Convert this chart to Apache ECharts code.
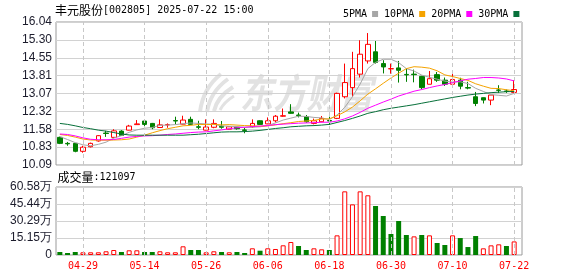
<!DOCTYPE html>
<html><head><meta charset="utf-8">
<script src="https://cdn.jsdelivr.net/npm/echarts@6/dist/echarts.min.js"></script>
<style>html,body{margin:0;padding:0;background:#fff}#c{width:578px;height:276px}</style>
</head><body><div id="c"></div>
<script>
const dates = ['04-24','04-25','04-28','04-29','04-30','05-06','05-07','05-08','05-09','05-12',
'05-13','05-14','05-15','05-16','05-19','05-20','05-21','05-22','05-23','05-26',
'05-27','05-28','05-29','05-30','06-03','06-04','06-05','06-06','06-09','06-10',
'06-11','06-12','06-13','06-16','06-17','06-18','06-19','06-20','06-23','06-24',
'06-25','06-26','06-27','06-30','07-01','07-02','07-03','07-04','07-07','07-08',
'07-09','07-10','07-11','07-14','07-15','07-16','07-17','07-18','07-21','07-22'];
const xTickLabels = ['04-29','05-14','05-26','06-06','06-18','06-30','07-10','07-22'];
const open = [11.24,10.99,10.99,10.66,10.85,11.09,11.42,11.24,11.50,11.54,
11.77,11.92,11.82,11.65,11.76,11.94,11.79,11.99,11.68,11.54,
11.66,11.70,11.58,11.66,11.55,11.68,11.93,11.80,11.93,12.12,
12.30,12.17,12.10,11.82,11.89,11.94,12.03,12.93,13.31,13.87,
14.42,14.80,14.31,14.09,14.13,13.86,13.87,13.78,13.45,13.85,
13.62,13.45,13.62,13.31,12.93,12.89,12.79,13.21,13.17,13.11];
const close = [10.99,10.97,10.66,10.83,10.99,11.31,11.40,11.51,11.32,11.71,
11.80,11.78,11.64,11.76,11.77,11.92,11.96,11.78,11.66,11.67,
11.82,11.66,11.68,11.60,11.53,11.82,11.78,11.93,12.12,12.14,
12.24,12.15,11.89,11.93,12.03,11.92,13.07,13.52,14.10,14.70,
15.11,14.36,14.17,14.10,14.03,13.84,13.85,13.31,13.68,13.62,
13.45,13.65,13.37,13.29,12.65,12.79,13.00,13.20,13.15,13.23];
const low = [10.96,10.89,10.62,10.60,10.82,11.06,11.26,11.20,11.30,11.53,
11.76,11.68,11.58,11.64,11.64,11.78,11.78,11.75,11.58,11.53,
11.62,11.60,11.57,11.56,11.41,11.64,11.76,11.79,11.86,12.10,
12.22,12.07,11.85,11.78,11.87,11.76,12.00,12.86,12.93,13.73,
14.31,14.31,13.90,13.89,13.52,13.55,13.53,13.24,13.45,13.55,
13.38,13.38,13.24,13.24,12.54,12.65,12.58,13.09,13.09,13.10];
const high = [11.27,11.05,11.00,10.89,11.02,11.33,11.51,11.58,11.54,11.76,
11.96,11.93,11.84,11.99,11.82,12.10,12.14,12.10,11.93,11.99,
11.99,11.92,11.70,11.68,11.64,11.99,11.95,12.07,12.17,12.44,
12.62,12.27,12.17,12.02,12.13,12.10,13.10,14.31,14.80,15.28,
15.58,15.25,14.45,14.31,14.42,14.10,14.06,13.80,14.00,13.96,
13.73,13.96,13.72,13.55,13.13,12.90,13.00,13.41,13.23,13.62];
const volume = [26700,17800,26700,24000,24000,24000,33000,44500,26700,41800,
41800,26700,26700,33000,24000,24000,77500,44500,44500,24000,
33000,26700,24000,26700,17800,59700,38300,59700,53500,86400,
115800,80200,44500,59400,50500,44500,175000,567000,451000,567000,
532000,436500,347500,187000,303000,178000,166000,178000,175000,107000,
89000,175000,151000,71000,169000,59400,86000,95000,80000,121097];
const ma5 = [11.27,11.15,11.02,10.93,10.89,10.95,11.04,11.21,11.31,11.45,
11.55,11.62,11.65,11.74,11.75,11.77,11.81,11.84,11.82,11.80,
11.78,11.72,11.70,11.69,11.66,11.66,11.68,11.73,11.84,11.96,
12.04,12.12,12.11,12.07,12.05,11.98,12.17,12.49,12.93,13.46,
14.10,14.36,14.49,14.49,14.35,14.10,14.00,13.83,13.74,13.66,
13.58,13.54,13.55,13.48,13.28,13.15,13.02,12.99,12.96,13.07];
const ma10 = [11.36,11.32,11.25,11.17,11.13,11.12,11.12,11.13,11.14,11.17,
11.25,11.33,11.43,11.52,11.60,11.66,11.72,11.74,11.78,11.77,
11.78,11.76,11.77,11.75,11.73,11.72,11.70,11.72,11.76,11.81,
11.85,11.90,11.92,11.95,12.00,12.01,12.14,12.30,12.50,12.76,
13.04,13.26,13.49,13.71,13.91,14.10,14.18,14.16,14.12,14.01,
13.84,13.77,13.69,13.61,13.47,13.37,13.28,13.27,13.22,13.18];
const ma20 = [11.38,11.36,11.30,11.22,11.16,11.14,11.14,11.15,11.20,11.25,
11.28,11.30,11.31,11.33,11.36,11.38,11.41,11.44,11.46,11.47,
11.51,11.55,11.60,11.64,11.66,11.69,11.71,11.73,11.77,11.79,
11.81,11.83,11.84,11.85,11.87,11.87,11.92,12.01,12.13,12.28,
12.45,12.58,12.71,12.83,12.96,13.06,13.16,13.23,13.31,13.38,
13.44,13.52,13.59,13.66,13.69,13.73,13.73,13.71,13.67,13.59];
const ma30 = [11.82,11.78,11.72,11.65,11.60,11.54,11.50,11.44,11.38,11.34,
11.33,11.33,11.33,11.33,11.33,11.33,11.33,11.35,11.37,11.40,
11.43,11.46,11.47,11.47,11.48,11.50,11.53,11.57,11.61,11.64,
11.68,11.70,11.72,11.73,11.75,11.78,11.86,11.94,12.03,12.13,
12.24,12.31,12.39,12.45,12.50,12.55,12.60,12.66,12.72,12.78,
12.84,12.90,12.95,13.00,13.04,13.07,13.10,13.12,13.14,13.15];
const priceTicks = ['10.09','10.83','11.58','12.32','13.07','13.81','14.55','15.30','16.04'];
const volTicks = ['0','15.15万','30.29万','45.44万','60.58万'];
const priceMin = 10.09, priceMax = 16.04, volMax = 605800;
const stockTitle = '丰元股份', stockInfo = '[002805] 2025-07-22 15:00';

const RED = '#ff0000', GREEN = '#008000', WM = '#e2e2e2';
const MONO = '"DejaVu Sans Mono", "Liberation Mono", monospace';
const CJK = '"Noto Sans CJK SC", sans-serif';
const SANS = '"Liberation Sans", Arial, sans-serif';
const showTick = (i) => xTickLabels.indexOf(dates[i]) >= 0;

const chart = echarts.init(document.getElementById('c'), null, {renderer: 'canvas'});
const L = 56, TOPP = 22, HP = 143, TOPV = 187, HV = 68, W = 462;
const frameGrid = (top, h) => ({left: L, right: 56, top: top, height: h, show: true, borderColor: '#9a9a9a', borderWidth: 1, backgroundColor: 'transparent'});
const dataGrid = (top, h) => ({left: L, width: W, top: top, height: h});
const catAxis = (gi, labels) => ({
  gridIndex: gi, type: 'category', data: dates, boundaryGap: true,
  axisLine: {show: false}, axisTick: {show: false},
  axisLabel: labels ? {show: true, interval: showTick, color: RED, fontFamily: MONO, fontSize: 10, margin: 6} : {show: false},
  splitLine: {show: false}
});
const frameY = (gi, ticks) => ({
  gridIndex: gi, type: 'value', min: 0, max: ticks.length - 1, interval: 1,
  axisLine: {show: false}, axisTick: {show: false},
  axisLabel: {formatter: v => ticks[v], color: '#1c1c2c', fontFamily: SANS, fontSize: 12, margin: 4},
  splitLine: {show: true, lineStyle: {color: '#d2d2d2', width: 1}}
});
const dashLines = {
  silent: true, symbol: 'none', animation: false, label: {show: false},
  lineStyle: {color: '#c8c8c8', type: [4, 3], width: 1},
  emphasis: {disabled: true},
  data: xTickLabels.map(d => ({xAxis: d}))
};

const volData = volume.map((v, i) => {
  const up = i === 0 ? close[i] >= open[i] : close[i] >= close[i - 1];
  return {value: v, itemStyle: up ? {color: '#fff', borderColor: RED, borderWidth: 1} : {color: GREEN, borderColor: GREEN, borderWidth: 0}};
});
const maSeries = (name, arr, color) => ({
  name: name, type: 'line', xAxisIndex: 1, yAxisIndex: 1, data: arr, showSymbol: false, symbol: 'none',
  lineStyle: {color: color, width: 1}, itemStyle: {color: color}, z: 4, animation: false
});
const blade = (x1, y1, cx, cy, x2, y2, w) => ({type: 'bezierCurve', z: 0, silent: true,
  shape: {x1: x1, y1: y1, cpx1: cx, cpy1: cy, x2: x2, y2: y2},
  style: {stroke: WM, lineWidth: w, fill: null, lineCap: 'butt'}});

chart.setOption({
  animation: false,
  backgroundColor: '#fff',
  legend: {
    left: 338, top: 4, align: 'right', icon: 'rect', itemWidth: 6, itemHeight: 6, itemGap: 6,
    selectedMode: false, textStyle: {fontFamily: MONO, fontSize: 10, color: '#000'},
    data: ['5PMA', '10PMA', '20PMA', '30PMA']
  },
  graphic: [
    blade(200, 112, 203, 88, 221, 74, 4),
    blade(207, 112, 210, 92, 228, 79, 4),
    blade(214, 111, 217, 97, 233, 87, 4),
    blade(220, 110, 224, 102, 234, 96, 3),
    {type: 'text', x: 240, y: 73, scaleX: 0.83, z: 0, silent: true,
     style: {text: '东方财富', font: 'italic bold 40px "Noto Sans CJK SC"', fill: WM, verticalAlign: 'top'}},
    {type: 'text', x: 55, y: 10, style: {text: stockTitle, font: '12px ' + CJK, fill: '#000', verticalAlign: 'middle'}},
    {type: 'text', x: 103, y: 10, style: {text: stockInfo, font: '10px ' + MONO, fill: '#000', verticalAlign: 'middle'}},
    {type: 'text', x: 57.5, y: 177, style: {text: '成交量', font: '12px ' + CJK, fill: '#000', verticalAlign: 'middle'}},
    {type: 'text', x: 93.5, y: 177, style: {text: ':' + volume[volume.length - 1], font: '10px ' + MONO, fill: '#000', verticalAlign: 'middle'}}
  ],
  grid: [frameGrid(TOPP, HP), dataGrid(TOPP, HP), frameGrid(TOPV, HV), dataGrid(TOPV, HV)],
  xAxis: [
    {gridIndex: 0, type: 'value', min: 0, max: 1, show: false},
    catAxis(1, false),
    {gridIndex: 2, type: 'value', min: 0, max: 1, show: false},
    catAxis(3, true)
  ],
  yAxis: [
    frameY(0, priceTicks),
    {gridIndex: 1, type: 'value', min: priceMin, max: priceMax, show: false},
    frameY(2, volTicks),
    {gridIndex: 3, type: 'value', min: 0, max: volMax, show: false}
  ],
  series: [
    {type: 'candlestick', xAxisIndex: 1, yAxisIndex: 1, barWidth: 5, z: 3,
     data: dates.map((d, i) => [open[i], close[i], low[i], high[i]]),
     itemStyle: {color: '#fff', color0: GREEN, borderColor: RED, borderColor0: GREEN, borderWidth: 1},
     markLine: dashLines},
    maSeries('5PMA', ma5, '#a6a6a6'),
    maSeries('10PMA', ma10, '#f5a300'),
    maSeries('20PMA', ma20, '#ff00ff'),
    maSeries('30PMA', ma30, '#07703a'),
    {type: 'bar', xAxisIndex: 3, yAxisIndex: 3, barWidth: 5, data: volData, z: 3, markLine: dashLines}
  ]
});
</script></body></html>
